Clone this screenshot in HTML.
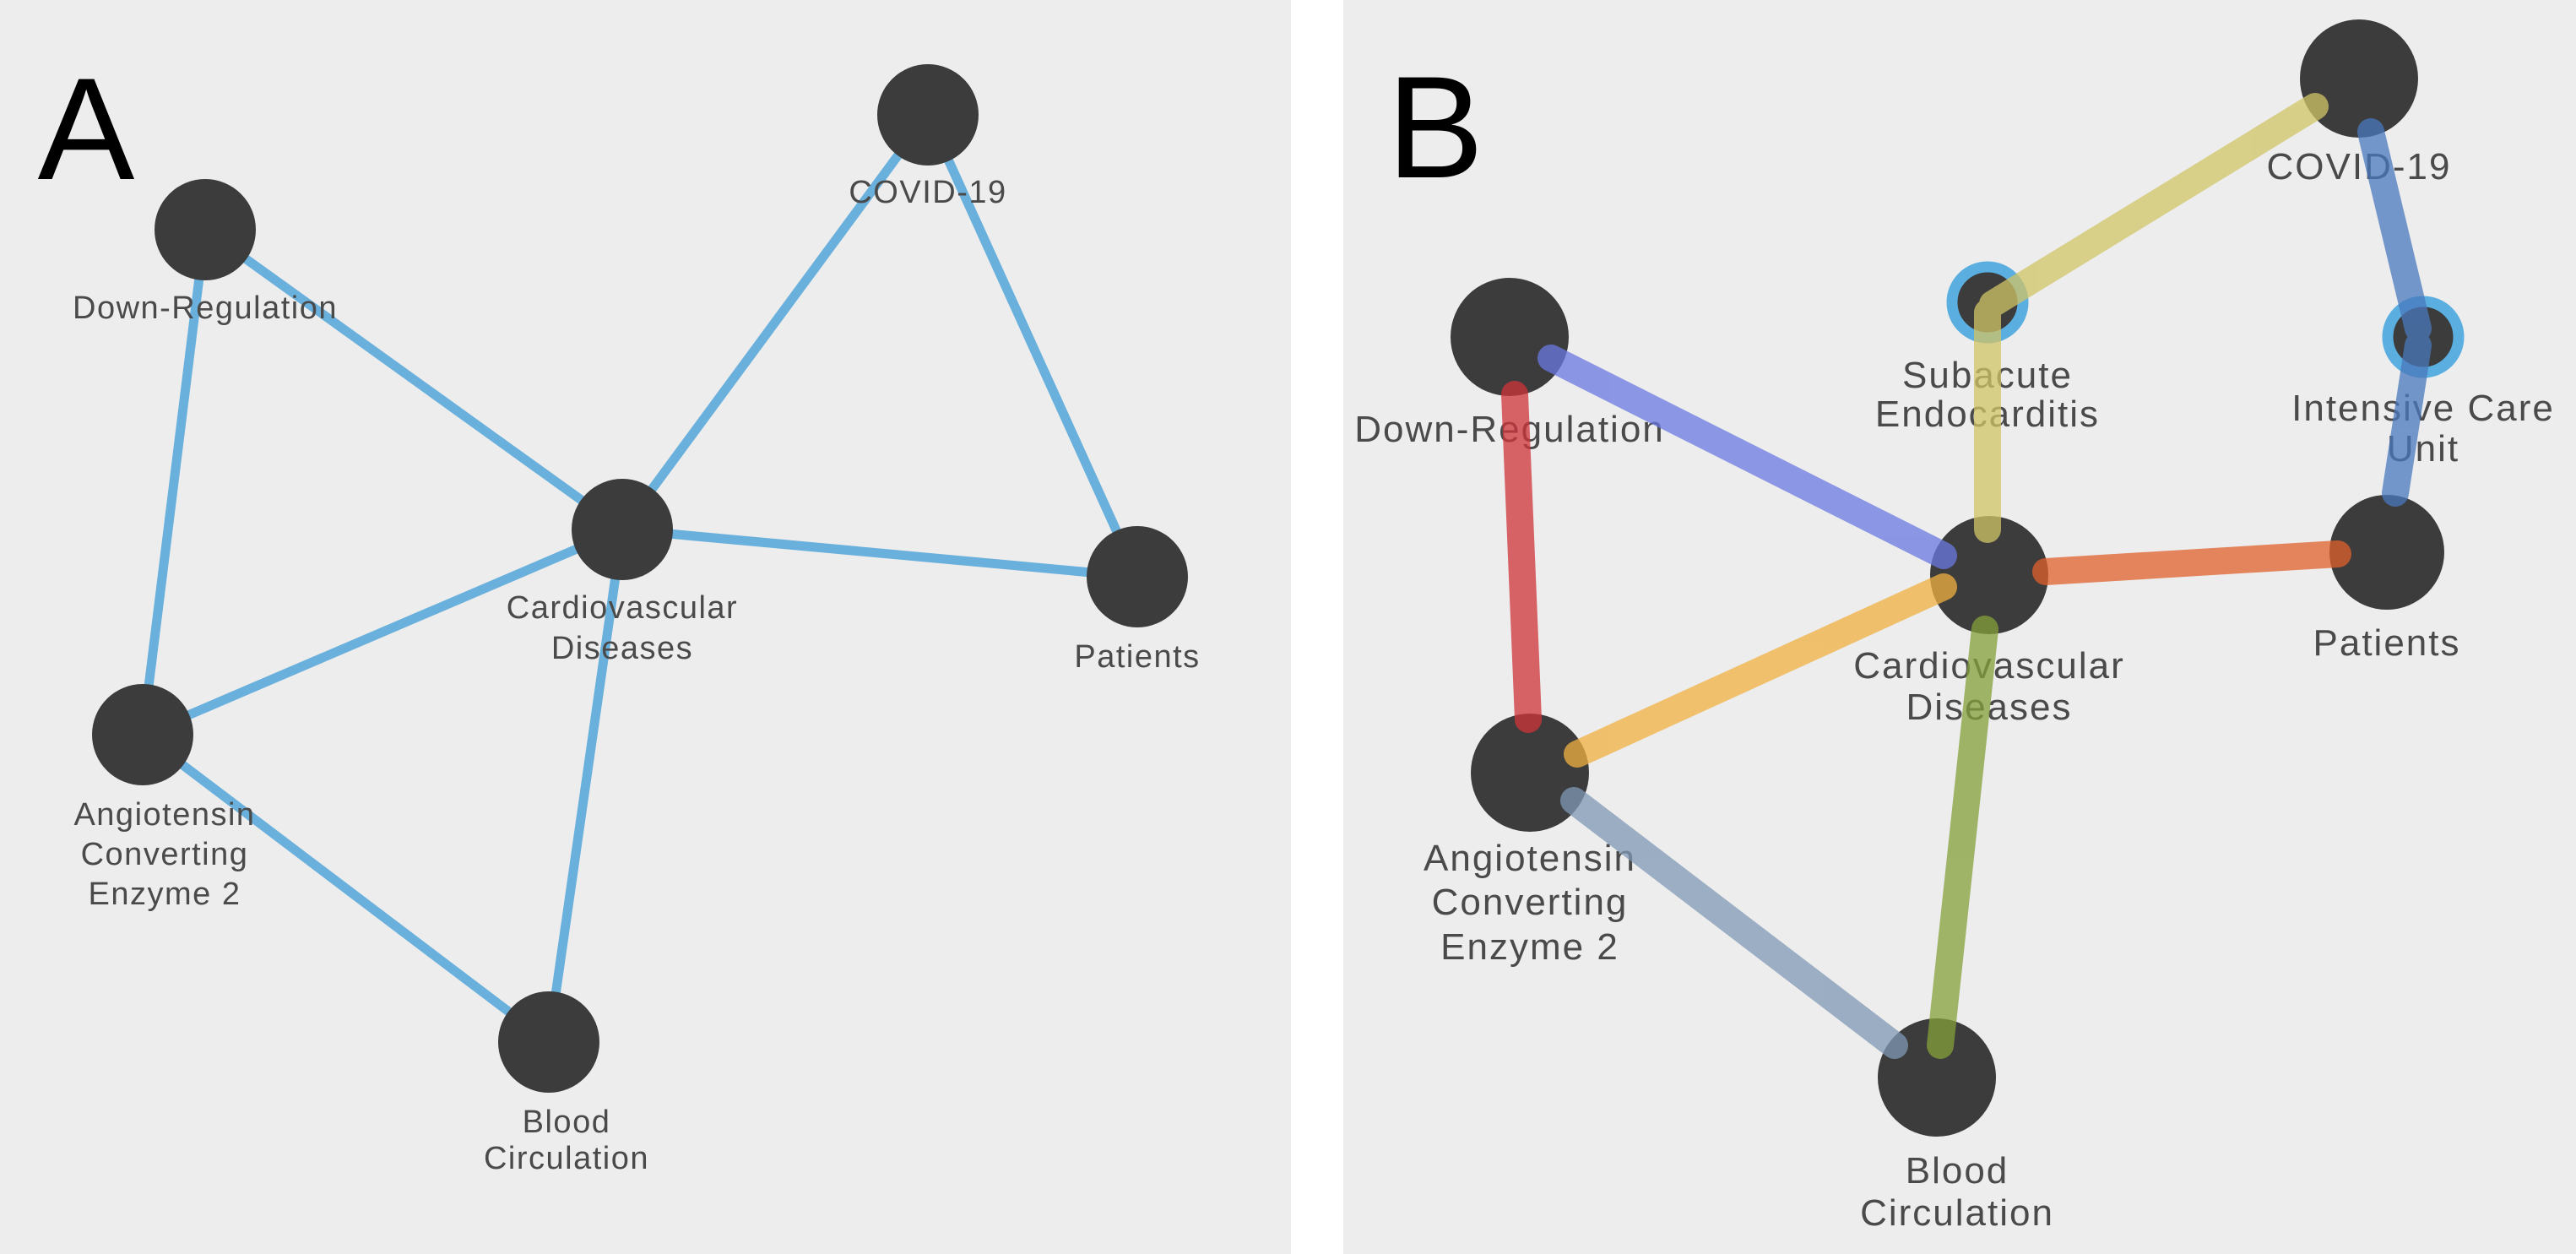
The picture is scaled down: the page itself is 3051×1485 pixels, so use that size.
<!DOCTYPE html>
<html><head><meta charset="utf-8"><style>
html,body{margin:0;padding:0;background:#fff;}
svg{display:block;}
text{font-family:"Liberation Sans",sans-serif;fill:#4a4a4a;text-anchor:middle;}
</style></head><body>
<svg width="3051" height="1485" viewBox="0 0 3051 1485" xmlns="http://www.w3.org/2000/svg">
<rect x="0" y="0" width="1529" height="1485" fill="#ededed"/>
<rect x="1591" y="0" width="1460" height="1485" fill="#ededed"/>
<text x="102" y="212" style="font-size:172px;fill:#000;">A</text>
<text x="1700" y="210" style="font-size:172px;fill:#000;">B</text>

<g stroke="#6ab0dc" stroke-width="11" fill="none">
<line x1="243" y1="272" x2="737" y2="627"/>
<line x1="243" y1="272" x2="169" y2="870"/>
<line x1="737" y1="627" x2="1099" y2="136"/>
<line x1="1099" y1="136" x2="1347" y2="683"/>
<line x1="737" y1="627" x2="1347" y2="683"/>
<line x1="737" y1="627" x2="169" y2="870"/>
<line x1="737" y1="627" x2="650" y2="1234"/>
<line x1="169" y1="870" x2="650" y2="1234"/>
</g>
<g fill="#3c3c3c">
<circle cx="1099" cy="136" r="60"/>
<circle cx="243" cy="272" r="60"/>
<circle cx="737" cy="627" r="60"/>
<circle cx="1347" cy="683" r="60"/>
<circle cx="169" cy="870" r="60"/>
<circle cx="650" cy="1234" r="60"/>
</g>
<g style="font-size:38px;letter-spacing:1.5px;">
<text x="1099" y="240">COVID-19</text>
<text x="243" y="377">Down-Regulation</text>
<text x="737" y="732">Cardiovascular</text>
<text x="737" y="780">Diseases</text>
<text x="1347" y="790">Patients</text>
<text x="195" y="977">Angiotensin</text>
<text x="195" y="1024">Converting</text>
<text x="195" y="1071">Enzyme 2</text>
<text x="671" y="1341">Blood</text>
<text x="671" y="1384">Circulation</text>
</g>

<g fill="#3c3c3c">
<circle cx="2794" cy="93" r="70"/>
<circle cx="1788" cy="399" r="70"/>
<circle cx="2356" cy="681" r="70"/>
<circle cx="2827" cy="654" r="68"/>
<circle cx="1812" cy="915" r="70"/>
<circle cx="2294" cy="1276" r="70"/>
<circle cx="2354" cy="358" r="36"/>
<circle cx="2870" cy="399" r="36"/>
</g>
<g fill="none" stroke="#5aaee0" stroke-width="13">
<circle cx="2354" cy="358" r="42"/>
<circle cx="2870" cy="399" r="42"/>
</g>
<g style="font-size:44px;letter-spacing:2px;">
<text x="2794" y="212">COVID-19</text>
<text x="2354" y="459">Subacute</text>
<text x="2354" y="505">Endocarditis</text>
<text x="2870" y="498">Intensive Care</text>
<text x="2870" y="546">Unit</text>
<text x="1788" y="523">Down-Regulation</text>
<text x="2356" y="803">Cardiovascular</text>
<text x="2356" y="852">Diseases</text>
<text x="2827" y="776">Patients</text>
<text x="1812" y="1031">Angiotensin</text>
<text x="1812" y="1083">Converting</text>
<text x="1812" y="1136">Enzyme 2</text>
<text x="2318" y="1401">Blood</text>
<text x="2318" y="1451">Circulation</text>
</g>
<g stroke-width="32" stroke-linecap="round" fill="none" opacity="0.75">
<line x1="2742" y1="126" x2="2360" y2="360" stroke="#d0c466"/>
<line x1="2354" y1="370" x2="2354" y2="627" stroke="#d0c466"/>
<line x1="2808" y1="156" x2="2864" y2="389" stroke="#4a78bd"/>
<line x1="2864" y1="409" x2="2837" y2="584" stroke="#4a78bd"/>
<line x1="1837" y1="424" x2="2302" y2="658" stroke="#6a7ae0"/>
<line x1="1794" y1="467" x2="1810" y2="852" stroke="#d0343a"/>
<line x1="2423" y1="677" x2="2769" y2="656" stroke="#e0602c"/>
<line x1="2302" y1="695" x2="1868" y2="893" stroke="#f0b040"/>
<line x1="2351" y1="745" x2="2298" y2="1238" stroke="#84a03a"/>
<line x1="1864" y1="948" x2="2244" y2="1238" stroke="#7f98b4"/>
</g>
</svg>
</body></html>
